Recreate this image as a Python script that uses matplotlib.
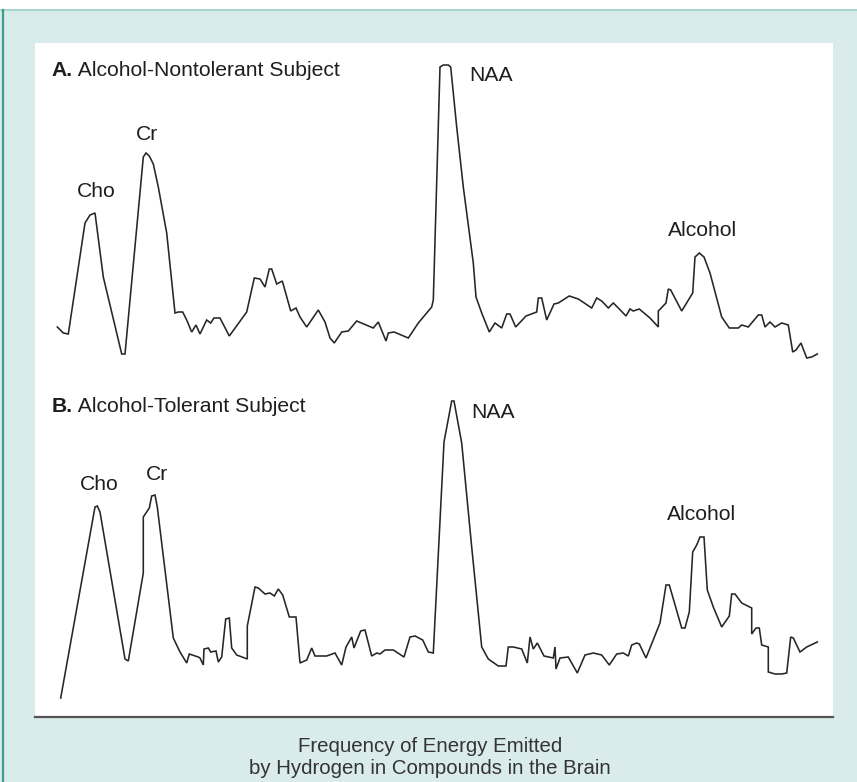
import matplotlib
matplotlib.use("Agg")
import matplotlib.pyplot as plt
from matplotlib.patches import Rectangle
from matplotlib.lines import Line2D

plt.rcParams['font.family'] = ['Liberation Sans', 'DejaVu Sans']

# ---------------- data ----------------
freq_A = [57.3, 63.3, 68.3, 85, 90, 95, 103.3, 121.7, 125, 143.3, 146, 149.3, 153.3, 158.3, 166.7,
          175, 178.3, 182.7, 186.7, 191.7, 196, 200, 206.7, 210.7, 214, 220, 229.3, 246.7, 254.3,
          260, 265, 269.3, 271.7, 276.7, 282.3, 290.7, 296, 300, 306.7, 318.3, 325, 330, 334.3,
          341.7, 348.3, 356.7, 373.3, 378.3, 386, 388.3, 394, 408.3, 418.3, 431.7, 433.3, 440,
          443.3, 448.3, 450.7, 456.7, 463.3, 473.3, 476, 481.7, 489.3, 495, 501.7, 506.7, 510,
          515.7, 526, 536.7, 538.3, 541.7, 546.7, 554, 558.3, 569.3, 578.3, 591.7, 596.7, 601.7,
          608.3, 613.3, 619.3, 626, 630, 633.3, 639.3, 650, 658.3, 658.3, 666, 668.3, 670.7,
          681.7, 692.7, 695, 699.3, 704, 710, 721.7, 729.3, 738.3, 741.7, 748.3, 758.3, 761.7,
          765, 770, 775, 781.7, 788.3, 792.7, 796, 801, 806.7, 811.7, 817.3]
sig_A = [33, 27, 26, 137, 145, 147, 83, 6, 6, 203, 207, 204, 196, 173, 127,
         47, 48, 48, 40, 28, 35, 26, 40, 37, 42, 42, 24, 48, 82,
         81, 73, 91, 91, 76, 79, 49, 52, 43, 33, 50, 38, 22, 17,
         28, 29, 39, 32, 38, 19, 27, 28, 22, 37, 53, 60, 293,
         295, 295, 293, 233, 173, 97, 63, 47, 28, 37, 32, 46, 46,
         33, 44, 48, 62, 62, 40, 56, 57, 64, 61, 52, 62, 59,
         52, 57, 51, 44, 51, 49, 51, 42, 33, 49, 57, 71, 70,
         49, 67, 103, 107, 103, 87, 43, 32, 32, 35, 33, 45, 45,
         33, 38, 33, 37, 35, 8, 10, 17, 2, 3, 6]

freq_B = [60.7, 95, 97.3, 100, 125, 128.3, 143.3, 143.3, 149.3, 151.7, 155, 157.3, 173.3, 180,
          186.7, 189.3, 198.3, 200, 203.3, 204, 208.3, 210.7, 216, 218.3, 221.7, 225.7, 229.3,
          231.7, 236.7, 247.3, 247.3, 255, 258.3, 265, 270, 274.3, 278.3, 282.7, 289.3, 296,
          300, 306.7, 311.7, 315, 326.7, 335, 341.7, 346, 351.7, 354, 360.7, 365, 371.7, 376.7,
          380, 385, 393.3, 404, 410, 415, 422.7, 428.3, 433.3, 444, 451.7, 454, 461.7, 471.7,
          481.7, 488.3, 498.3, 506, 508.3, 513.3, 521.7, 527.3, 530, 533.3, 537.3, 544, 553.3,
          555, 556, 560, 568.3, 577.3, 585, 593.3, 601.7, 609.3, 616.7, 623.3, 628.3, 631.7,
          636.7, 639.3, 646, 660, 666, 669.3, 681.7, 685, 689.3, 692.7, 696.7, 700, 704, 707.3,
          713.3, 721.7, 729.3, 731.7, 735, 741.7, 751.7, 751.7, 756, 759.3, 761.7, 768.3, 768.3,
          775, 781.7, 786.7, 790.7, 793.3, 800, 806.7, 817.3]
sig_B = [2, 193, 194, 188, 41, 39, 127, 183, 192, 204, 205, 193, 62, 48,
         37, 46, 43, 42, 35, 51, 52, 48, 49, 38, 43, 81, 82,
         52, 45, 41, 74, 113, 112, 106, 107, 104, 111, 105, 83, 83,
         37, 40, 52, 44, 44, 47, 35, 53, 63, 52, 69, 70, 44, 47,
         46, 50, 50, 43, 63, 64, 60, 48, 47, 258, 299, 299, 257, 153,
         53, 41, 34, 34, 53, 53, 51, 37, 63, 51, 57, 44, 42,
         53, 31, 42, 43, 27, 45, 47, 45, 35, 46, 47, 44, 55,
         57, 56, 42, 77, 115, 115, 72, 72, 88, 148, 155, 163, 163, 110,
         93, 73, 84, 106, 106, 97, 92, 66, 72, 72, 55, 53, 28,
         26, 26, 27, 63, 62, 48, 53, 58]

title_A_bold, title_A = "A.", " Alcohol-Nontolerant Subject"
title_B_bold, title_B = "B.", " Alcohol-Tolerant Subject"
peak_labels = ["Cho", "Cr", "NAA", "Alcohol"]
caption = ["Frequency of Energy Emitted", "by Hydrogen in Compounds in the Brain"]

# ---------------- figure ----------------
W, H = 857, 782
fig = plt.figure(figsize=(W / 100, H / 100), dpi=100)
fig.patch.set_facecolor('#d9ebea')

def fx(px):
    return px / W

def fy(py):
    return 1 - py / H

# white strip above the frame, frame lines
fig.patches.append(Rectangle((0, fy(10)), 1, 10 / H, transform=fig.transFigure,
                             facecolor='white', edgecolor='none', zorder=0))
fig.lines.append(Line2D([0, 1], [fy(10), fy(10)], transform=fig.transFigure,
                        color='#a6d6cf', lw=1.5, zorder=1))
fig.lines.append(Line2D([fx(2.5), fx(2.5)], [0, fy(10)], transform=fig.transFigure,
                        color='#3d9c8e', lw=1.6, zorder=1))
# white panel
fig.patches.append(Rectangle((fx(35), fy(716)), 798 / W, 673 / H, transform=fig.transFigure,
                             facecolor='white', edgecolor='none', zorder=0))
fig.lines.append(Line2D([fx(35), fx(833)], [fy(716.5), fy(716.5)], transform=fig.transFigure,
                        color='#555555', lw=1.6, zorder=2))

line_kw = dict(color='#262626', lw=1.15, solid_joinstyle='miter')
txt_kw = dict(fontsize=15.2, color='#1e1e1e')

# panel A
axA = fig.add_axes([0, fy(380), 1, 335 / H])
axA.set_zorder(5)
axA.set_xlim(0, W)
axA.set_ylim(-20, 315)
axA.axis('off')
axA.plot(freq_A, sig_A, **line_kw)
tA = axA.text(51.7, 284, title_A_bold, fontweight='bold', ha='left', va='baseline', **txt_kw)
axA.annotate(title_A, xy=(1, 0), xycoords=tA, ha='left', va='bottom', **txt_kw)
for lab, x, y in zip(peak_labels, [96.3, 147.5, 491.5, 703], [163, 220, 279, 124]):
    axA.text(x, y, lab, ha='center', va='baseline', **txt_kw)

# panel B
axB = fig.add_axes([0, fy(716), 1, 336 / H])
axB.set_zorder(5)
axB.set_xlim(0, W)
axB.set_ylim(-16, 320)
axB.axis('off')
axB.plot(freq_B, sig_B, **line_kw)
tB = axB.text(51.7, 288, title_B_bold, fontweight='bold', ha='left', va='baseline', **txt_kw)
axB.annotate(title_B, xy=(1, 0), xycoords=tB, ha='left', va='bottom', **txt_kw)
for lab, x, y in zip(peak_labels, [98.8, 157, 493.3, 701.3], [210, 220, 282, 180]):
    axB.text(x, y, lab, ha='center', va='baseline', **txt_kw)

# caption
fig.text(fx(430), fy(747), caption[0], ha='center', va='center', fontsize=14.7, color='#333333')
fig.text(fx(430), fy(768), caption[1], ha='center', va='center', fontsize=14.7, color='#333333')

fig.savefig('out.png', dpi=100, facecolor=fig.get_facecolor())
